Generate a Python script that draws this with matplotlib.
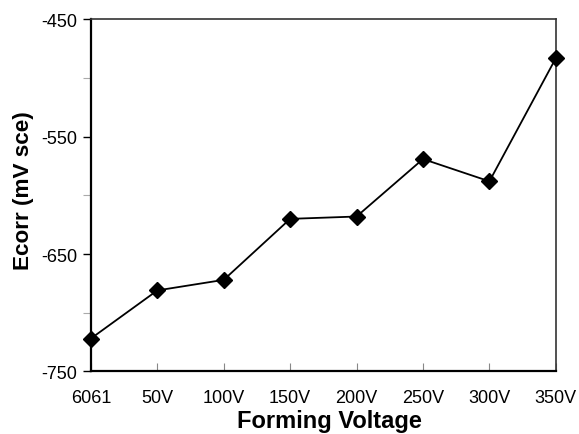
import matplotlib
matplotlib.use("Agg")
import matplotlib.pyplot as plt
from matplotlib.ticker import FixedLocator

categories = ["6061", "50V", "100V", "150V", "200V", "250V", "300V", "350V"]
ecorr = [-722, -681, -672, -620, -618, -569, -588, -483]
y_major = [-750, -650, -550, -450]
y_minor = [-700, -600, -500]

plt.rcParams['font.family'] = ['Liberation Sans', 'DejaVu Sans']
plt.rcParams['axes.unicode_minus'] = False

fig = plt.figure(figsize=(5.79, 4.35), dpi=100)
ax = fig.add_axes([0.157, 0.144, 0.803, 0.809])

x = list(range(len(categories)))
ax.plot(x, ecorr, color='black', linewidth=1.3, marker='D', markersize=8.5,
        markerfacecolor='black', markeredgecolor='black', clip_on=False, zorder=3)

ax.set_xlim(0, len(categories) - 1)
ax.set_ylim(-750, -450)
ax.set_xticks(x)
ax.set_xticklabels(categories)
ax.yaxis.set_major_locator(FixedLocator(y_major))
ax.yaxis.set_minor_locator(FixedLocator(y_minor))
ax.tick_params(axis='y', which='major', direction='out', length=6, width=1, color='black',
               labelsize=13, pad=4)
ax.tick_params(axis='y', which='minor', direction='out', length=6, width=0.8, color='#aaaaaa')
ax.tick_params(axis='x', which='major', direction='in', length=6, width=0.8, color='#888888',
               labelsize=13, pad=13)

for s in ['left', 'bottom']:
    ax.spines[s].set_linewidth(1.6)
    ax.spines[s].set_color('black')
for s in ['top', 'right']:
    ax.spines[s].set_linewidth(1.2)
    ax.spines[s].set_color('#333333')

ax.set_xlabel('Forming Voltage', fontsize=17, fontweight='bold')
ax.set_ylabel('Ecorr (mV sce)', fontsize=16.2, fontweight='bold')
ax.xaxis.set_label_coords(0.514, -0.107)
ax.yaxis.set_label_coords(-0.122, 0.516)

fig.savefig('out.png', dpi=100)
